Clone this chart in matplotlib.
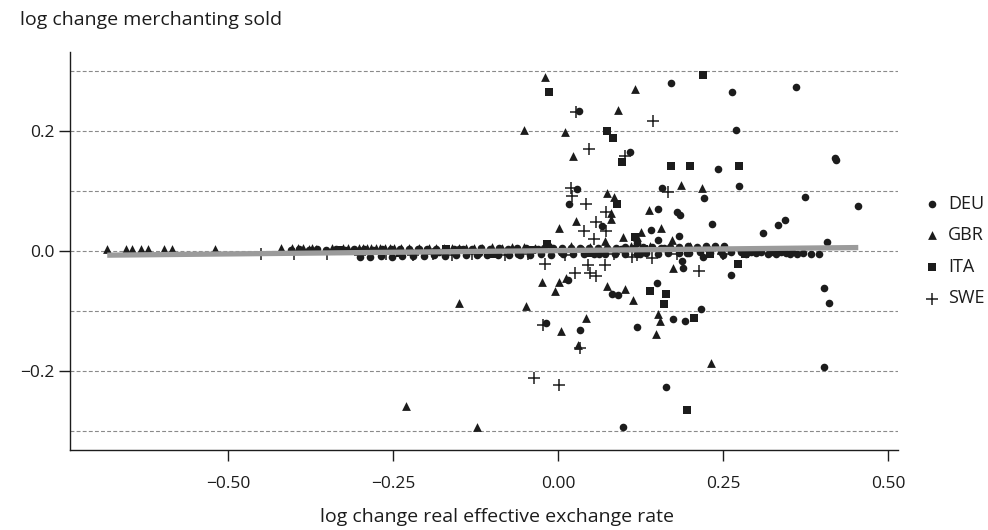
import matplotlib
matplotlib.use("Agg")
import matplotlib.pyplot as plt

plt.rcParams['font.family'] = ['Open Sans', 'DejaVu Sans']

# ---------------- data ----------------
countries = ["DEU", "GBR", "ITA", "SWE"]
markers = {"DEU": "o", "GBR": "^", "ITA": "s", "SWE": "+"}

deu_x = [0.032, 0.109, 0.029, 0.017, 0.066, 0.171, 0.264, 0.360, 0.270, 0.242, 0.420, 0.421,
         0.157, 0.221, 0.274, 0.374, 0.454, 0.151, 0.181, 0.185, 0.234, 0.310, 0.333, 0.344,
         0.408, 0.141, 0.119, 0.151, 0.184, 0.015, 0.082, 0.091, -0.018, 0.033, 0.119, 0.098,
         0.262, 0.188, 0.190, 0.219, 0.150, 0.216, 0.174, 0.192, 0.403, 0.411, 0.403, 0.163,
         -0.210, -0.180, -0.150, -0.120, -0.090, -0.060, -0.030, 0.005, 0.035, 0.062, 0.095,
         0.125, 0.160, 0.195, 0.228, 0.250, 0.285, 0.300, 0.318, 0.330, 0.345, 0.352, 0.362,
         0.372, 0.384, 0.395,
         -0.405, -0.392, -0.378, -0.365, -0.351, -0.337, -0.322, -0.309, -0.294, -0.281,
         -0.267, -0.253, -0.240, -0.226, -0.212, -0.199, -0.185, -0.171, -0.158, -0.144,
         -0.131, -0.117, -0.103, -0.089, -0.076, -0.062, -0.049, -0.035, -0.021, -0.008,
         0.006, 0.019, 0.033, 0.047, 0.060, 0.074, 0.088, 0.101, 0.115, 0.129, 0.143,
         0.156, 0.170, 0.184, 0.197, 0.211, 0.225, 0.238, 0.252,
         -0.300, -0.285, -0.268, -0.251, -0.236, -0.219, -0.203, -0.188, -0.171, -0.155,
         -0.139, -0.122, -0.107, -0.091, -0.074, -0.058, -0.043, -0.026, -0.010, 0.007,
         0.022, 0.039, 0.054, 0.071, 0.087, 0.102, 0.119, 0.134, 0.151, 0.167, 0.183,
         0.199, 0.215, 0.231, 0.247, 0.262, 0.278, 0.292, 0.308, 0.323, 0.338, 0.355]
deu_y = [0.234, 0.166, 0.104, 0.079, 0.042, 0.281, 0.265, 0.274, 0.202, 0.137, 0.156, 0.152,
         0.106, 0.089, 0.109, 0.091, 0.076, 0.071, 0.066, 0.060, 0.046, 0.031, 0.043, 0.052,
         0.015, 0.035, 0.014, 0.018, 0.026, -0.048, -0.072, -0.074, -0.120, -0.131, -0.126, -0.293,
         -0.039, -0.017, -0.028, -0.009, -0.054, -0.096, -0.113, -0.116, -0.061, -0.087, -0.194, -0.227,
         0.003, -0.002, 0.004, -0.003, 0.002, -0.004, 0.003, -0.002, 0.004, -0.005, 0.003,
         -0.004, 0.005, -0.003, 0.004, -0.006, -0.004, -0.003, -0.005, -0.004, -0.003, -0.004, -0.005,
         -0.003, -0.004, -0.005,
         0.002, 0.003, 0.002, 0.003, 0.002, 0.003, 0.002, 0.003, 0.003, 0.002,
         0.003, 0.003, 0.004, 0.003, 0.004, 0.003, 0.004, 0.004, 0.003, 0.004,
         0.004, 0.005, 0.004, 0.005, 0.004, 0.005, 0.005, 0.004, 0.005, 0.005,
         0.006, 0.005, 0.006, 0.006, 0.005, 0.006, 0.006, 0.007, 0.006, 0.007, 0.007,
         0.006, 0.007, 0.007, 0.008, 0.007, 0.008, 0.008, 0.008,
         -0.009, -0.009, -0.008, -0.009, -0.008, -0.008, -0.008, -0.007, -0.008, -0.007,
         -0.007, -0.007, -0.006, -0.007, -0.006, -0.006, -0.006, -0.005, -0.006, -0.005,
         -0.005, -0.005, -0.004, -0.005, -0.004, -0.004, -0.004, -0.003, -0.004, -0.003,
         -0.003, -0.003, -0.002, -0.003, -0.002, -0.002, -0.002, -0.001, -0.002, -0.001,
         -0.001, -0.001]

gbr_x = [-0.019, 0.116, 0.091, -0.051, 0.011, 0.022, 0.075, 0.085, 0.081, 0.081, 0.027, 0.001,
         0.071, 0.098, 0.138, 0.187, 0.218, 0.126, 0.156, 0.120, 0.173, -0.024, 0.002, -0.004,
         0.012, 0.075, 0.102, 0.114, -0.150, -0.048, 0.004, 0.042, 0.030, -0.231, -0.123, 0.174,
         0.152, 0.154, 0.148, 0.232,
         -0.684, -0.655, -0.645, -0.632, -0.621, -0.597, -0.585, -0.519, -0.419, -0.403, -0.394,
         -0.386, -0.378, -0.372, -0.366, -0.342, -0.325, -0.318, -0.302, -0.296, -0.290, -0.283,
         -0.276, -0.270, -0.262, -0.255, -0.248, -0.238, -0.225, -0.210, -0.196, -0.185, -0.172,
         -0.160, -0.150, -0.140, -0.128, -0.115, -0.100, -0.085, -0.070, -0.052, -0.035, -0.010,
         0.020, 0.048, 0.110, 0.140, 0.200]
gbr_y = [0.290, 0.271, 0.236, 0.202, 0.199, 0.159, 0.097, 0.091, 0.064, 0.053, 0.050, 0.038,
         0.017, 0.024, 0.068, 0.111, 0.106, 0.032, 0.038, 0.023, 0.019, -0.052, -0.052, -0.066,
         -0.044, -0.058, -0.063, -0.082, -0.087, -0.092, -0.134, -0.111, -0.157, -0.258, -0.293, -0.028,
         -0.105, -0.116, -0.139, -0.186,
         0.003, 0.003, 0.003, 0.003, 0.003, 0.003, 0.003, 0.003, 0.005, 0.005, 0.005,
         0.005, 0.004, 0.005, 0.004, 0.005, 0.005, 0.005, 0.006, 0.006, 0.006, 0.006,
         0.006, 0.006, 0.006, 0.006, 0.006, 0.005, 0.005, 0.006, 0.005, 0.005, 0.006,
         0.005, 0.006, 0.005, 0.006, 0.006, 0.007, 0.006, 0.007, 0.007, 0.006, 0.007,
         0.008, 0.007, 0.009, 0.008, 0.009]

ita_x = [-0.014, 0.074, 0.083, 0.097, 0.089, 0.220, 0.172, 0.200, 0.274, 0.117, -0.017,
         0.273, 0.140, 0.164, 0.160, 0.206, 0.195, 0.284,
         -0.330, -0.240, -0.170, -0.100, -0.040, 0.050, 0.130, 0.230]
ita_y = [0.266, 0.201, 0.189, 0.149, 0.079, 0.294, 0.142, 0.143, 0.143, 0.023, 0.012,
         -0.021, -0.066, -0.071, -0.088, -0.111, -0.265, -0.005,
         0.002, -0.003, 0.003, -0.004, 0.002, -0.003, 0.004, -0.004]

swe_x = [0.028, 0.047, 0.102, 0.144, 0.020, 0.021, 0.043, 0.072, 0.057, 0.073, 0.040, 0.055,
         0.166, -0.019, 0.026, 0.046, 0.071, 0.048, 0.057, -0.023, 0.033, -0.037, 0.002,
         0.214, 0.112, 0.142,
         -0.450, -0.400, -0.350, -0.300, -0.260, -0.220, -0.190, -0.160, -0.130, -0.080,
         -0.045, 0.010, 0.085, 0.120, 0.180, 0.250]
swe_y = [0.232, 0.170, 0.159, 0.217, 0.106, 0.092, 0.078, 0.066, 0.048, 0.033, 0.034, 0.020,
         0.098, -0.022, -0.037, -0.023, -0.023, -0.036, -0.042, -0.124, -0.161, -0.211, -0.223,
         -0.033, -0.009, -0.012,
         -0.004, -0.005, -0.005, -0.006, -0.005, -0.006, -0.005, -0.006, -0.005, -0.006,
         -0.005, -0.006, -0.004, -0.006, -0.005, -0.004]

fit_x = [-0.683, 0.455]
fit_y = [-0.0067, 0.0060]

data = {"DEU": (deu_x, deu_y), "GBR": (gbr_x, gbr_y), "ITA": (ita_x, ita_y), "SWE": (swe_x, swe_y)}
sizes = {"DEU": 30, "GBR": 40, "ITA": 36, "SWE": 72}

# ---------------- figure ----------------
fig = plt.figure(figsize=(9.88, 5.30), dpi=100)
ax = fig.add_axes([70 / 988, 1 - 450 / 530, 828 / 988, 398 / 530])

ink = "#1c1c1c"
for yv in [-0.3, -0.2, -0.1, 0.0, 0.1, 0.2, 0.3]:
    ax.axhline(yv, color="#8a8a8a", lw=0.8, ls=(0, (3.5, 2)), zorder=1)

handles = []
for c in countries:
    xs, ys = data[c]
    if markers[c] == "+":
        h = ax.scatter(xs, ys, marker="+", s=sizes[c], color=ink, linewidths=1.1, zorder=3, label=c)
    else:
        h = ax.scatter(xs, ys, marker=markers[c], s=sizes[c], color=ink, linewidths=0, zorder=3, label=c)
    handles.append(h)

ax.plot(fit_x, fit_y, color="#9b9b9b", lw=3.8, solid_capstyle="butt", zorder=4)

ax.set_xlim(-0.7394, 0.5152)
ax.set_ylim(-0.332, 0.3325)
ax.set_xticks([-0.5, -0.25, 0.0, 0.25, 0.5])
ax.set_xticklabels(["\u22120.50", "\u22120.25", "0.00", "0.25", "0.50"])
ax.set_yticks([-0.2, 0.0, 0.2])
ax.set_yticklabels(["\u22120.2", "0.0", "0.2"])
for s in ["top", "right"]:
    ax.spines[s].set_visible(False)
for s in ["left", "bottom"]:
    ax.spines[s].set_color(ink)
    ax.spines[s].set_linewidth(1.0)
ax.tick_params(axis="both", direction="out", length=8, width=1.0, color=ink,
               labelsize=12.5, labelcolor=ink)
ax.tick_params(axis="x", pad=11)
ax.tick_params(axis="y", pad=3)

fig.text(20 / 988, 1 - 20 / 530, "log change merchanting sold", fontsize=14,
         color=ink, ha="left", va="center")
fig.text(497 / 988, 1 - 517 / 530, "log change real effective exchange rate", fontsize=14,
         color=ink, ha="center", va="center")

leg = fig.legend(handles=handles, labels=countries, loc="center left",
                 bbox_to_anchor=(905 / 988, 1 - 251 / 530), frameon=False,
                 fontsize=13, handletextpad=0.3, labelspacing=0.75, handlelength=1.2,
                 scatterpoints=1, labelcolor=ink)

fig.savefig("out.png", dpi=100)
